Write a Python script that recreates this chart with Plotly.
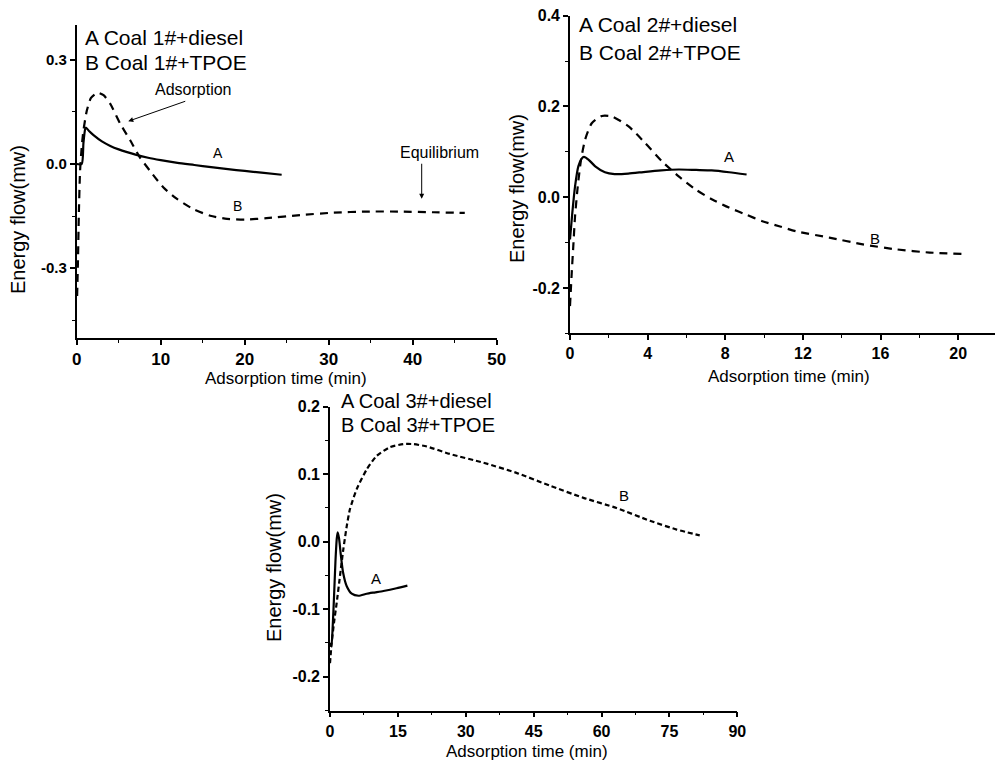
import plotly.graph_objects as go

W, H = 995, 761

# ---------------- data ----------------
# Panel 1: Coal 1#
p1_a_x = [0, 0.6, 0.8, 1.0, 1.1, 1.5, 2.0, 3.0, 4.0, 5.0, 6.0, 7.0, 8.5, 10.0, 12.0, 14.0, 16.0, 18.0, 20.0, 22.0, 24.4]
p1_a_y = [0.0, 0.0, 0.06, 0.1, 0.105, 0.094, 0.083, 0.065, 0.052, 0.042, 0.034, 0.027, 0.018, 0.011, 0.003, -0.003, -0.009, -0.015, -0.020, -0.025, -0.031]
p1_b_x = [0.05, 0.15, 0.25, 0.4, 0.6, 0.8, 1.2, 1.7, 2.5, 3.2, 4.0, 5.2, 6.4, 7.5, 8.7, 10.3, 11.9, 13.9, 15.9, 17.9, 20.0, 22.6, 26.6, 30.6, 34.5, 38.5, 42.5, 46.2]
p1_b_y = [-0.38, -0.28, -0.15, -0.02, 0.05, 0.096, 0.153, 0.19, 0.205, 0.198, 0.173, 0.115, 0.067, 0.02, -0.019, -0.067, -0.1, -0.13, -0.149, -0.158, -0.16, -0.156, -0.147, -0.14, -0.137, -0.137, -0.139, -0.141]

# Panel 2: Coal 2#
p2_a_x = [0, 0.12, 0.26, 0.43, 0.6, 0.72, 0.95, 1.3, 1.8, 2.3, 3.0, 3.9, 4.7, 5.6, 6.5, 7.3, 8.2, 9.1]
p2_a_y = [-0.093, -0.034, 0.024, 0.068, 0.085, 0.089, 0.083, 0.068, 0.055, 0.051, 0.052, 0.056, 0.059, 0.061, 0.060, 0.059, 0.055, 0.050]
p2_b_x = [0.0, 0.09, 0.17, 0.26, 0.4, 0.57, 0.78, 1.12, 1.64, 2.16, 3.02, 3.88, 4.74, 5.6, 6.47, 7.33, 8.19, 9.05, 9.91, 10.78, 11.64, 13.36, 15.09, 16.81, 18.53, 20.17]
p2_b_y = [-0.24, -0.166, -0.108, -0.042, 0.024, 0.083, 0.127, 0.163, 0.179, 0.178, 0.156, 0.119, 0.079, 0.046, 0.017, -0.005, -0.023, -0.038, -0.053, -0.064, -0.075, -0.089, -0.104, -0.115, -0.122, -0.125]

# Panel 3: Coal 3#
p3_a_x = [0, 0.3, 0.6, 0.9, 1.2, 1.5, 1.7, 2.0, 2.4, 2.9, 3.7, 4.8, 6.3, 8.1, 10.0, 11.8, 14.7, 17.1]
p3_a_y = [-0.15, -0.155, -0.125, -0.08, -0.03, 0.005, 0.014, 0.005, -0.02, -0.046, -0.066, -0.077, -0.08, -0.077, -0.075, -0.073, -0.069, -0.065]
p3_b_x = [0, 0.37, 0.88, 1.47, 2.2, 2.95, 3.7, 4.4, 5.9, 8.1, 10.3, 13.25, 16.2, 18.4, 21.4, 26.5, 33.9, 41.2, 48.6, 56.0, 63.3, 70.7, 76.6, 81.7]
p3_b_y = [-0.18, -0.15, -0.12, -0.091, -0.051, -0.011, 0.023, 0.048, 0.078, 0.107, 0.127, 0.14, 0.1446, 0.1446, 0.141, 0.13, 0.117, 0.102, 0.083, 0.065, 0.05, 0.031, 0.018, 0.0094]

# tick labels
p1_yticks = [-0.3, 0.0, 0.3]
p1_yticktext = ["-0.3", "0.0", "0.3"]
p2_yticks = [-0.2, 0.0, 0.2, 0.4]
p2_yticktext = ["-0.2", "0.0", "0.2", "0.4"]
p3_yticks = [-0.2, -0.1, 0.0, 0.1, 0.2]
p3_yticktext = ["-0.2", "-0.1", "0.0", "0.1", "0.2"]

legend_texts = [
    ("A Coal 1#+diesel", "B Coal 1#+TPOE"),
    ("A Coal 2#+diesel", "B Coal 2#+TPOE"),
    ("A Coal 3#+diesel", "B Coal 3#+TPOE"),
]
x_title = "Adsorption time (min)"
y_title = "Energy flow(mw)"

FONT = "Arial, 'Liberation Sans', sans-serif"


def px(x):
    return x / W


def py(y):
    return 1 - y / H


fig = go.Figure()

line_solid = dict(color="black", width=2.2, shape="spline", smoothing=0.6)
line_dash = dict(color="black", width=2.2, dash="8px,6px", shape="spline", smoothing=0.6)

fig.add_trace(go.Scatter(x=p1_a_x, y=p1_a_y, mode="lines", line=line_solid, xaxis="x", yaxis="y", showlegend=False))
fig.add_trace(go.Scatter(x=p1_b_x, y=p1_b_y, mode="lines", line=line_dash, xaxis="x", yaxis="y", showlegend=False))
fig.add_trace(go.Scatter(x=p2_a_x, y=p2_a_y, mode="lines", line=line_solid, xaxis="x2", yaxis="y2", showlegend=False))
fig.add_trace(go.Scatter(x=p2_b_x, y=p2_b_y, mode="lines", line=line_dash, xaxis="x2", yaxis="y2", showlegend=False))
fig.add_trace(go.Scatter(x=p3_a_x, y=p3_a_y, mode="lines", line=line_solid, xaxis="x3", yaxis="y3", showlegend=False))
fig.add_trace(go.Scatter(x=p3_b_x, y=p3_b_y, mode="lines", line=dict(color="black", width=2.2, dash="5px,3px", shape="spline", smoothing=0.6), xaxis="x3", yaxis="y3", showlegend=False))


def axis(domain, rng, anchor, tickfont_size, dtick=None, minor_dtick=None, tickvals=None, ticktext=None, minor_vals=None):
    d = dict(
        domain=domain, range=rng, anchor=anchor, automargin=False,
        showline=True, linecolor="black", linewidth=1.6,
        ticks="outside", ticklen=5, tickwidth=1.5, tickcolor="black",
        showgrid=False, zeroline=False,
        tickfont=dict(family=FONT, size=tickfont_size, color="black", weight="bold"),
    )
    if tickvals is not None:
        d.update(tickmode="array", tickvals=tickvals, ticktext=ticktext)
    else:
        d.update(tickmode="linear", tick0=0, dtick=dtick)
    minor = dict(ticks="outside", ticklen=3, tickwidth=1.2, tickcolor="black", showgrid=False)
    if minor_vals is not None:
        minor.update(tickmode="array", tickvals=minor_vals)
    else:
        minor.update(tick0=0, dtick=minor_dtick)
    d["minor"] = minor
    return d


fig.update_layout(
    template="none",
    width=W, height=H, autosize=False,
    margin=dict(l=0, r=0, t=0, b=0, pad=0),
    paper_bgcolor="white", plot_bgcolor="white",
    font=dict(family=FONT, color="black"),
    xaxis=axis([px(76.7), px(496.7)], [0, 50], "y", 17, dtick=10, minor_dtick=5),
    yaxis=axis([py(337.7), py(25)], [-0.5, 0.4], "x", 15, tickvals=p1_yticks, ticktext=p1_yticktext,
               minor_vals=[-0.45, -0.15, 0.15]),
    xaxis2=axis([px(570), 1.0], [0, 21.9], "y2", 16, dtick=4, minor_dtick=2),
    yaxis2=axis([py(333.3), py(15.7)], [-0.3, 0.4], "x2", 16, tickvals=p2_yticks, ticktext=p2_yticktext,
                minor_vals=[-0.3, -0.1, 0.1, 0.3]),
    xaxis3=axis([px(330), px(737.3)], [0, 90], "y3", 16, dtick=15, minor_dtick=7.5),
    yaxis3=axis([py(710.5), py(406.7)], [-0.25, 0.2], "x3", 16, tickvals=p3_yticks, ticktext=p3_yticktext,
                minor_vals=[-0.25, -0.15, -0.05, 0.05, 0.15]),
)

ann = []


def text(x, y, s, size, xanchor="center", angle=0):
    ann.append(dict(x=px(x), y=py(y), xref="paper", yref="paper", text=s, showarrow=False,
                    xanchor=xanchor, yanchor="middle", textangle=angle,
                    font=dict(family=FONT, size=size, color="black")))


# legend-like labels
text(83, 37, legend_texts[0][0], 21, "left")
text(83, 63, legend_texts[0][1], 21, "left")
text(577, 25, legend_texts[1][0], 21, "left")
text(577, 52, legend_texts[1][1], 21, "left")
text(339, 401, legend_texts[2][0], 20, "left")
text(339, 425, legend_texts[2][1], 20, "left")

# axis titles
text(286, 378, x_title, 17)
text(789, 376, x_title, 17)
text(527, 751, x_title, 17)
text(18, 220, y_title, 20, angle=-90)
text(517, 189, y_title, 20, angle=-90)
text(274, 568, y_title, 20, angle=-90)

# curve labels
text(218, 153, "A", 14)
text(237, 206, "B", 14)
text(729, 156, "A", 15)
text(875, 238, "B", 15)
text(376, 578, "A", 15)
text(624, 495, "B", 15)

# panel 1 notes
text(193, 89, "Adsorption", 16)
text(439, 152, "Equilibrium", 16)

# arrows (data coords, panel 1)
ann.append(dict(x=6.14, y=0.123, ax=13.1, ay=0.182, xref="x", yref="y", axref="x", ayref="y",
                text="", showarrow=True, arrowhead=2, arrowsize=1, arrowwidth=1, arrowcolor="black"))
ann.append(dict(x=41.07, y=-0.1, ax=41.07, ay=0.005, xref="x", yref="y", axref="x", ayref="y",
                text="", showarrow=True, arrowhead=2, arrowsize=1, arrowwidth=1, arrowcolor="black"))

fig.update_layout(annotations=ann)

fig.write_html("out.html", config={"displayModeBar": False},
               post_script="document.body.style.margin='0';document.body.style.overflow='hidden';")
